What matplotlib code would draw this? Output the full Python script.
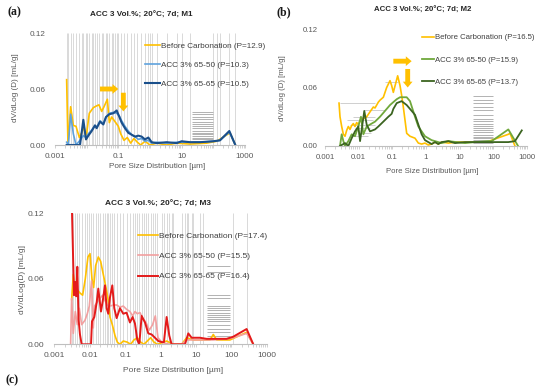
import numpy as np
import matplotlib.pyplot as plt
from matplotlib.ticker import FixedLocator, LogLocator, NullFormatter

plt.rcParams['font.family'] = ['Liberation Sans', 'DejaVu Sans']

# ---- data: pore size [µm] vs dV/dlog(D) [mL/g] ----
# (a) M1
a_before_x = [0.00233, 0.00257, 0.00312, 0.00379, 0.00461, 0.00587, 0.00695, 0.00824, 0.00952, 0.0105,
              0.0121, 0.0162, 0.0207, 0.0245, 0.0298, 0.0353, 0.0450, 0.0520, 0.0616, 0.0785,
              0.100, 0.119, 0.151, 0.192, 0.245, 0.312, 0.398, 0.507, 0.695, 1.0,
              1.62, 3.36, 6.95, 18.3, 61.5, 127, 336, 495]
a_before_y = [0.070, 0.0, 0.041, 0.021, 0.020, 0.008, 0.013, 0.020, 0.006, 0.018,
              0.034, 0.040, 0.042, 0.043, 0.036, 0.041, 0.049, 0.024, 0.030, 0.025,
              0.020, 0.012, 0.005, 0.008, 0.002, 0.007, 0.003, 0.0, 0.004, 0.0,
              0.002, 0.0, 0.002, 0.001, 0.002, 0.004, 0.013, 0.0]
a_acc_x = [0.00233, 0.00264, 0.00312, 0.00379, 0.00461, 0.00616, 0.00785, 0.00952, 0.0113, 0.0144,
           0.0183, 0.0207, 0.0264, 0.0336, 0.0408, 0.0520, 0.0695, 0.0886, 0.108, 0.127,
           0.162, 0.207, 0.264, 0.336, 0.428, 0.545, 0.695, 0.886, 1.13, 1.62,
           3.36, 6.95, 10, 18.3, 37.9, 100, 162, 320, 495]
a_6550_y = [0.003, 0.0, 0.033, 0.012, 0.0, 0.005, 0.010, 0.008, 0.012, 0.016,
            0.021, 0.019, 0.026, 0.023, 0.030, 0.034, 0.035, 0.034, 0.031, 0.026,
            0.020, 0.015, 0.011, 0.009, 0.006, 0.007, 0.004, 0.005, 0.002, 0.003,
            0.002, 0.003, 0.003, 0.003, 0.003, 0.004, 0.005, 0.014, 0.0]
a_6565_y = [0.0, 0.0, 0.0, 0.0, 0.0, 0.0, 0.027, 0.006, 0.010, 0.015,
            0.021, 0.018, 0.025, 0.022, 0.030, 0.033, 0.034, 0.037, 0.030, 0.024,
            0.018, 0.013, 0.011, 0.009, 0.010, 0.009, 0.006, 0.008, 0.003, 0.002,
            0.003, 0.002, 0.004, 0.003, 0.003, 0.004, 0.005, 0.015, 0.0]

# (b) M2
b_before_x = [0.00261, 0.00279, 0.00313, 0.00351, 0.00393, 0.00440, 0.00493, 0.00553, 0.00620, 0.00695,
              0.00778, 0.00872, 0.00977, 0.0110, 0.0138, 0.0173, 0.0217, 0.0273, 0.0306, 0.0384,
              0.0430, 0.0541, 0.0679, 0.0853, 0.0955, 0.107, 0.144, 0.169, 0.189, 0.212,
              0.267, 0.335, 0.471, 0.592, 0.743, 0.933, 1.17, 1.47, 1.85, 2.32,
              2.92, 4.60, 8.15, 14.4, 28.5, 71.0, 89.1, 279, 313, 440]
b_before_y = [0.044, 0.030, 0.020, 0.012, 0.010, 0.016, 0.020, 0.017, 0.021, 0.023,
              0.020, 0.024, 0.022, 0.026, 0.028, 0.030, 0.035, 0.040, 0.039, 0.045,
              0.047, 0.050, 0.060, 0.067, 0.062, 0.055, 0.072, 0.062, 0.052, 0.040,
              0.013, 0.010, 0.008, 0.003, 0.002, 0.003, 0.001, 0.002, 0.004, 0.002,
              0.004, 0.003, 0.004, 0.004, 0.004, 0.004, 0.006, 0.012, 0.013, 0.0]
b_6550_x = [0.00279, 0.00313, 0.00351, 0.00393, 0.00493, 0.00620, 0.00778, 0.00977, 0.0117, 0.0138,
            0.0173, 0.0217, 0.0306, 0.0430, 0.0541, 0.0679, 0.0853, 0.107, 0.135, 0.169,
            0.212, 0.267, 0.335, 0.471, 0.592, 0.743, 0.933, 1.17, 1.47, 1.85,
            2.92, 4.60, 8.15, 14.4, 28.5, 71.0, 89.1, 279, 543]
b_6550_y = [0.0, 0.012, 0.005, 0.0, 0.005, 0.012, 0.010, 0.020, 0.030, 0.012,
            0.020, 0.022, 0.025, 0.030, 0.034, 0.038, 0.042, 0.045, 0.048, 0.050,
            0.050, 0.050, 0.046, 0.030, 0.020, 0.015, 0.010, 0.008, 0.006, 0.005,
            0.003, 0.005, 0.004, 0.003, 0.004, 0.005, 0.005, 0.017, 0.0]
b_6565_x = [0.00279, 0.00393, 0.00493, 0.00620, 0.00778, 0.00977, 0.0110, 0.0147, 0.0173, 0.0217,
            0.0306, 0.0384, 0.0541, 0.0761, 0.0955, 0.107, 0.135, 0.189, 0.267, 0.335,
            0.471, 0.592, 0.743, 0.933, 1.17, 1.47, 1.85, 2.32, 2.92, 4.60,
            7.27, 14.4, 28.5, 71.0, 279, 440, 700]
b_6565_y = [0.0, 0.003, 0.0, 0.008, 0.015, 0.020, 0.005, 0.036, 0.022, 0.015,
            0.017, 0.020, 0.025, 0.030, 0.033, 0.038, 0.044, 0.046, 0.042, 0.038,
            0.032, 0.022, 0.012, 0.006, 0.004, 0.002, 0.004, 0.002, 0.004, 0.005,
            0.003, 0.004, 0.004, 0.004, 0.004, 0.005, 0.016]
# horizontal error bars in (b)
b_err_y = [0.044, 0.037, 0.030, 0.027, 0.022, 0.018, 0.013, 0.010, 0.066]
b_err_lo = [0.0028, 0.014, 0.007, 0.0044, 0.0055, 0.0078, 0.0098, 0.0055, 0.06]
b_err_hi = [0.031, 0.06, 0.031, 0.027, 0.031, 0.022, 0.024, 0.019, 0.15]

# (c) M3
c_before_x = [0.00309, 0.00344, 0.00384, 0.00447, 0.00531, 0.00631, 0.00751, 0.00893, 0.0102, 0.0116,
              0.0129, 0.0147, 0.0175, 0.0204, 0.0242, 0.0288, 0.0335, 0.0374, 0.0435, 0.0518,
              0.0602, 0.0716, 0.0889, 0.115, 0.143, 0.178, 0.221, 0.275, 0.341, 0.424,
              0.526, 0.653, 0.812, 1.49, 2.30, 3.95, 5.47, 8.45, 16.2, 25.0,
              31.0, 38.5, 91.6, 271, 418]
c_before_y = [0.041, 0.064, 0.050, 0.050, 0.047, 0.045, 0.060, 0.080, 0.083, 0.060,
              0.052, 0.072, 0.080, 0.076, 0.064, 0.052, 0.040, 0.025, 0.018, 0.008,
              0.002, 0.0, 0.003, 0.002, 0.0, 0.004, 0.006, 0.002, 0.0, 0.003,
              0.006, 0.002, 0.0, 0.003, 0.0, 0.0, 0.006, 0.004, 0.004, 0.004,
              0.009, 0.004, 0.004, 0.011, 0.0]
c_6550_x = [0.00289, 0.00309, 0.00344, 0.00392, 0.00447, 0.00508, 0.00592, 0.00735, 0.00855, 0.00974,
            0.0113, 0.0126, 0.0138, 0.0157, 0.0195, 0.0232, 0.0270, 0.0314, 0.0374, 0.0464,
            0.0577, 0.0716, 0.0889, 0.110, 0.137, 0.163, 0.190, 0.221, 0.263, 0.313,
            0.388, 0.483, 0.600, 0.713, 0.848, 1.08, 1.34, 1.85, 3.95, 5.47,
            13.0, 31.0, 73.8, 114, 271, 418]
c_6550_y = [0.0, 0.042, 0.010, 0.030, 0.018, 0.033, 0.018, 0.022, 0.028, 0.035,
            0.058, 0.015, 0.035, 0.038, 0.042, 0.045, 0.040, 0.036, 0.035, 0.036,
            0.036, 0.034, 0.035, 0.032, 0.030, 0.026, 0.030, 0.028, 0.029, 0.024,
            0.020, 0.013, 0.018, 0.026, 0.006, 0.002, 0.001, 0.0, 0.0, 0.004,
            0.004, 0.004, 0.005, 0.006, 0.010, 0.0]
c_6565_x = [0.00309, 0.00360, 0.00392, 0.00418, 0.00447, 0.00487, 0.00531, 0.00592, 0.0109, 0.0116,
            0.0135, 0.0157, 0.0175, 0.0208, 0.0232, 0.0270, 0.0301, 0.0335, 0.0374, 0.0435,
            0.0495, 0.0577, 0.0716, 0.0889, 0.110, 0.137, 0.163, 0.190, 0.221, 0.252,
            0.293, 0.364, 0.452, 0.562, 0.698, 0.867, 1.08, 1.25, 1.49, 1.77,
            2.06, 4.91, 6.10, 7.57, 13.0, 20.1, 31.0, 47.9, 73.8, 114,
            271, 418]
c_6565_y = [0.135, 0.045, 0.057, 0.044, 0.071, 0.022, 0.009, 0.0, 0.0, 0.021,
            0.025, 0.038, 0.051, 0.030, 0.039, 0.054, 0.033, 0.028, 0.043, 0.054,
            0.033, 0.024, 0.033, 0.028, 0.029, 0.020, 0.025, 0.019, 0.004, 0.0,
            0.026, 0.020, 0.010, 0.009, 0.006, 0.003, 0.002, 0.002, 0.025, 0.008,
            0.0, 0.0, 0.010, 0.006, 0.006, 0.005, 0.005, 0.005, 0.005, 0.007,
            0.014, 0.0]

# hatched boxes (horizontal gray lines) in each panel
box_a_levels = [0.0358, 0.0333, 0.0304, 0.0276, 0.025, 0.0225, 0.0204, 0.0179, 0.0154, 0.0133,
                0.0115, 0.0097, 0.0079, 0.0061, 0.0047]
box_b_levels = [0.051, 0.047, 0.044, 0.040, 0.037, 0.032, 0.028, 0.026, 0.023, 0.021,
                0.018, 0.016, 0.014, 0.011, 0.0096, 0.0079, 0.0062, 0.0045, 0.0027]
box_c_levels = [0.072, 0.066, 0.045, 0.042, 0.035, 0.033, 0.031, 0.029, 0.027, 0.025,
                0.023, 0.021, 0.018, 0.014, 0.011, 0.008, 0.005]

YELLOW = '#FFC000'
W, H = 550, 389
FS = 5.9

fig = plt.figure(figsize=(W / 100, H / 100), dpi=100)


def add_ax(x0, x1, ytop, ybot):
    return fig.add_axes([x0 / W, 1 - ybot / H, (x1 - x0) / W, (ybot - ytop) / H])


def style(ax, labels, fs=FS, ypad=7):
    ax.set_xscale('log')
    ax.set_xlim(0.001, 1000)
    ax.set_ylim(0, 0.12)
    for s in ['top', 'right', 'left']:
        ax.spines[s].set_visible(False)
    ax.spines['bottom'].set_color('#BFBFBF')
    ax.spines['bottom'].set_linewidth(0.8)
    ax.xaxis.set_major_locator(FixedLocator([0.001, 0.01, 0.1, 1, 10, 100, 1000]))
    ax.set_xticklabels(labels)
    ax.xaxis.set_minor_locator(LogLocator(base=10, subs=np.arange(2, 10)))
    ax.xaxis.set_minor_formatter(NullFormatter())
    ax.tick_params(axis='x', which='both', colors='#BFBFBF', labelcolor='#595959',
                   labelsize=fs, length=2, width=0.5, pad=3.5)
    ax.set_yticks([0, 0.06, 0.12])
    ax.set_yticklabels(['0.00', '0.06', '0.12'])
    ax.tick_params(axis='y', length=0, labelsize=fs, labelcolor='#595959', pad=ypad)


def drop_lines(ax, xs, lo, hi, box):
    allx = np.unique(np.concatenate([np.asarray(x) for x in xs]))
    keep = []
    for v in allx:
        if v < lo or v > hi or box[0] <= v <= box[1]:
            continue
        if keep and np.log10(v) - np.log10(keep[-1]) < 0.04:
            continue
        keep.append(v)
    ax.vlines(keep, 0, 0.12, color='#D9D9D9', lw=0.7, zorder=0)


def arrow(ax, x0, y0, x1, y1):
    ax.annotate('', xy=(x1, y1), xytext=(x0, y0),
                arrowprops=dict(arrowstyle='simple,head_length=0.6,head_width=1.0,tail_width=0.5',
                                color=YELLOW, lw=0, shrinkA=0, shrinkB=0, mutation_scale=7))


def legend(ax, x, y, fs, hl, ls):
    ax.legend(loc='upper left', bbox_to_anchor=(x / W, 1 - y / H), bbox_transform=fig.transFigure,
              frameon=False, fontsize=fs, handlelength=hl, handletextpad=0.1, labelspacing=ls,
              borderpad=0, borderaxespad=0, labelcolor='#404040')


def labels(cx_title, cy_title, title, cx_x, cy_x, cx_y, cy_y, ylab, fs=FS):
    fig.text(cx_title / W, 1 - cy_title / H, title, ha='center', va='center',
             fontsize=fs, fontweight='bold', color='#262626')
    fig.text(cx_x / W, 1 - cy_x / H, 'Pore Size Distribution [µm]', ha='center', va='center',
             fontsize=fs, color='#595959')
    fig.text(cx_y / W, 1 - cy_y / H, ylab, ha='center', va='center', rotation=90,
             fontsize=fs, color='#595959')


# ---------------- (a) ----------------
ax = add_ax(55, 245, 33, 145)
style(ax, ['0.001', '', '0.1', '', '10', '', '1000'])
drop_lines(ax, [a_before_x, a_acc_x], 0.0023, 500, (19, 97))
ax.hlines(box_a_levels, 20.8, 96, color='#A6A6A6', lw=0.6, zorder=0)
ax.plot(a_before_x, a_before_y, color=YELLOW, lw=1.2, label='Before Carbonation (P=12.9)')
ax.plot(a_acc_x, a_6550_y, color='#5FA2DD', lw=1.2, label='ACC 3% 65-50 (P=10.3)')
ax.plot(a_acc_x, a_6565_y, color='#1A4F8B', lw=1.5, label='ACC 3% 65-65 (P=10.5)')
arrow(ax, 0.0264, 0.060, 0.10, 0.060)
arrow(ax, 0.144, 0.056, 0.144, 0.036)
legend(ax, 145, 42, FS, 1.8, 1.4)
labels(141, 15, 'ACC 3 Vol.%; 20°C; 7d; M1', 157, 167, 16, 88, 'dV/dLog (D) [mL/g]')

# ---------------- (b) ----------------
fsb = 5.6
ax = add_ax(325, 527, 29, 146)
style(ax, ['0.001', '0.01', '0.1', '1', '10', '100', '1000'], fs=fsb, ypad=5)
ax.hlines(b_err_y, b_err_lo, b_err_hi, color='#C8C8C8', lw=0.6, zorder=0)
ax.hlines(box_b_levels, 25, 100, color='#A6A6A6', lw=0.6, zorder=0)
ax.plot(b_before_x, b_before_y, color=YELLOW, lw=1.2, label='Before Carbonation (P=16.5)')
ax.plot(b_6550_x, b_6550_y, color='#70A83B', lw=1.3, label='ACC 3% 65-50 (P=15.9)')
ax.plot(b_6565_x, b_6565_y, color='#3B6420', lw=1.3, label='ACC 3% 65-65 (P=13.7)')
arrow(ax, 0.107, 0.087, 0.375, 0.087)
arrow(ax, 0.286, 0.079, 0.286, 0.060)
legend(ax, 422, 34, fsb, 1.55, 1.9)
labels(423, 10, 'ACC 3 Vol.%; 20°C; 7d; M2', 432, 172, 282, 88, 'dV/dLog (D) [mL/g]', fs=fsb)

# ---------------- (c) ----------------
fsc = 6.0
ax = add_ax(54.3, 266.7, 213.3, 344.3)
style(ax, ['0.001', '0.01', '0.1', '1', '10', '100', '1000'], fs=fsc)
drop_lines(ax, [c_before_x, c_6550_x, c_6565_x], 0.0029, 300, (19, 95))
ax.hlines(box_c_levels, 20, 92, color='#A6A6A6', lw=0.6, zorder=0)
ax.plot(c_before_x, c_before_y, color=YELLOW, lw=1.2, label='Before Carbonation (P=17.4)')
ax.plot(c_6550_x, c_6550_y, color='#F2A0A0', lw=1.2, label='ACC 3% 65-50 (P=15.5)')
ax.plot(c_6565_x, c_6565_y, color='#E41A1A', lw=1.4, label='ACC 3% 65-65 (P=16.4)')
legend(ax, 138, 232, fsc, 2.4, 1.5)
labels(158, 204, 'ACC 3 Vol.%; 20°C; 7d; M3', 173, 370, 23, 280, 'dV/dLog(D) [mL/g]', fs=fsc)

# panel letters
for x, y, t in [(14, 12, '(a)'), (284, 12, '(b)'), (12, 380, '(c)')]:
    fig.text(x / W, 1 - y / H, t, ha='center', va='center', fontsize=8.5,
             fontweight='bold', family='Liberation Serif', color='#1A1A1A')

fig.savefig('out.png', dpi=100)
